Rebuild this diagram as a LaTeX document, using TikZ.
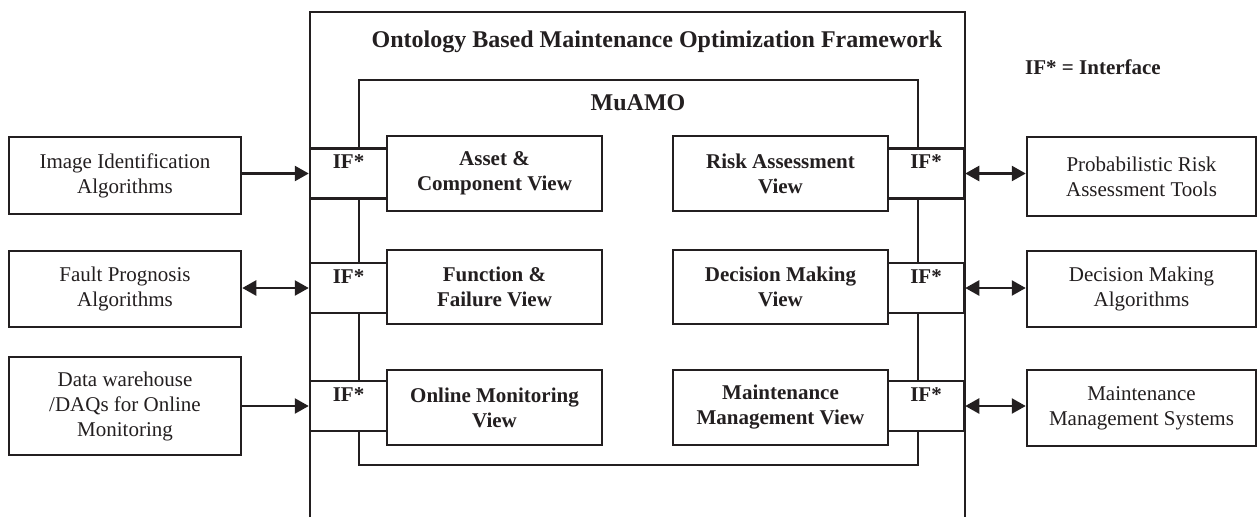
\documentclass[tikz,border=0pt]{standalone}
\usepackage{fontspec}
\setmainfont{Liberation Serif}
\usetikzlibrary{arrows.meta}
\definecolor{ink}{RGB}{35,31,32}

\begin{document}
\begin{tikzpicture}[x=1pt,y=-1pt,
  line/.style={draw=ink, line width=2.5pt},
  txt/.style={font=\fontsize{21}{25}\selectfont, text=ink},
  ext/.style={line, txt, rectangle, fill=white, align=center, inner sep=0pt},
  view/.style={ext, font=\fontsize{21}{25}\selectfont\bfseries},
  ifbox/.style={line, rectangle, fill=white, inner sep=0pt, minimum width=77pt, minimum height=50pt,
    label={[txt, font=\fontsize{21}{25}\selectfont\bfseries, anchor=north, inner sep=7.5pt]north:IF*}},
  head/.style={font=\fontsize{24}{28}\selectfont\bfseries, text=ink},
  oneway/.style={line, -{Triangle[length=14pt,width=15pt]}},
  twoway/.style={line, {Triangle[length=14pt,width=15pt]}-{Triangle[length=14pt,width=15pt]}}
]
\useasboundingbox (0,0) rectangle (1258,517);

% outer framework frame, open at the bottom
\coordinate (oBL) at (310,517);
\coordinate (oTL) at (310,12);
\coordinate (oTR) at (965,12);
\coordinate (oBR) at (965,517);
\draw[line] (oBL) -- (oTL) -- (oTR) -- (oBR);
\node[head] (title) at (657,42) {Ontology Based Maintenance Optimization Framework};

% MuAMO container
\coordinate (mTL) at (359,80);
\coordinate (mBR) at (918,465);
\draw[line] (mTL) rectangle (mBR);
\node[head] (muamo) at (638,103) {MuAMO};

\node[txt, font=\fontsize{21}{25}\selectfont\bfseries] (legend) at (1093,67) {IF* = Interface};

% interfaces, left and right
\node[ifbox] (ifl1) at (348.5,173.5) {};
\node[ifbox] (ifl2) at (348.5,288) {};
\node[ifbox] (ifl3) at (348.5,406) {};
\node[ifbox, minimum width=76pt] (ifr1) at (926,173.5) {};
\node[ifbox, minimum width=76pt] (ifr2) at (926,288) {};
\node[ifbox, minimum width=76pt] (ifr3) at (926,406) {};

% views
\node[view, minimum width=215pt, minimum height=75pt] (asset) at (494.5,173.5) {Asset \&\\Component View};
\node[view, minimum width=215pt, minimum height=74pt] (func) at (494.5,287) {Function \&\\Failure View};
\node[view, minimum width=215pt, minimum height=75pt] (online) at (494.5,407.5) {Online Monitoring\\View};
\node[view, minimum width=215pt, minimum height=75pt] (risk) at (780.5,173.5) {Risk Assessment\\View};
\node[view, minimum width=215pt, minimum height=74pt] (decide) at (780.5,287) {Decision Making\\View};
\node[view, minimum width=215pt, minimum height=75pt] (maint) at (780.5,407.5) {Maintenance\\Management View};

% external tools
\node[ext, minimum width=232pt, minimum height=77pt] (img) at (125,175.5) {Image Identification\\Algorithms};
\node[ext, minimum width=232pt, minimum height=76pt] (fault) at (125,289) {Fault Prognosis\\Algorithms};
\node[ext, minimum width=232pt, minimum height=98pt] (daq) at (125,406) {Data warehouse\\/DAQs for Online\\Monitoring};
\node[ext, minimum width=229pt, minimum height=79pt] (pra) at (1141.5,176.5) {Probabilistic Risk\\Assessment Tools};
\node[ext, minimum width=229pt, minimum height=76pt] (dma) at (1141.5,289) {Decision Making\\Algorithms};
\node[ext, minimum width=229pt, minimum height=76pt] (mms) at (1141.5,408) {Maintenance\\Management Systems};

% connectors
\draw[oneway] (img.east |- ifl1.west) -- (ifl1.west);
\draw[twoway] (fault.east |- ifl2.west) -- (ifl2.west);
\draw[oneway] (daq.east |- ifl3.west) -- (ifl3.west);
\draw[twoway] (ifr1.east) -- (pra.west |- ifr1.east);
\draw[twoway] (ifr2.east) -- (dma.west |- ifr2.east);
\draw[twoway] (ifr3.east) -- (mms.west |- ifr3.east);
\end{tikzpicture}
\end{document}
